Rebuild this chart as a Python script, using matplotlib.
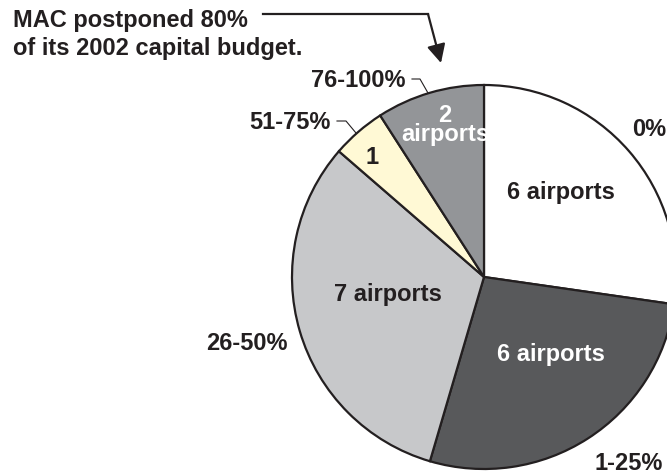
import matplotlib.pyplot as plt

# airports by share of 2002 capital budget postponed
categories = ['0%', '1-25%', '26-50%', '51-75%', '76-100%']
airports = [6, 6, 7, 1, 2]
slice_text = ['6 airports', '6 airports', '7 airports', '1', '2\nairports']
colors = ['#ffffff', '#58595b', '#c7c8ca', '#fff9d5', '#939598']
text_colors = ['#231f20', '#ffffff', '#231f20', '#231f20', '#ffffff']

ink = '#231f20'
fs = 17

fig = plt.figure(figsize=(6.67, 4.74), dpi=100)
ax = fig.add_axes([0, 0, 1, 1])

# y is flipped below (pixel-style coords), so counterclock=True draws clockwise
ax.pie(airports, colors=colors, center=(484, 277), radius=192,
       startangle=-90, counterclock=True,
       wedgeprops=dict(edgecolor=ink, linewidth=1.6))

ax.set_xlim(0, 667)
ax.set_ylim(474, 0)
ax.axis('off')

# text inside the slices
inside_pos = [(561, 193), (551, 355), (388, 295), (372, 158), (445, 125)]
for (x, y), t, c in zip(inside_pos, slice_text, text_colors):
    ax.text(x, y, t, ha='center', va='center', fontsize=fs, color=c,
            fontweight='bold', family='Liberation Sans', linespacing=0.8)

# category labels around the pie
outside_pos = [(666, 130, 'right'), (594, 463, 'left'), (288, 343, 'right'),
               (331, 122, 'right'), (406, 80, 'right')]
for (x, y, ha), cat in zip(outside_pos, categories):
    ax.text(x, y, cat, ha=ha, va='center', fontsize=fs, color=ink,
            fontweight='bold', family='Liberation Sans')

# leader lines for the two small slices
ax.plot([412, 420, 428], [79, 79, 93], color=ink, lw=0.8)
ax.plot([337, 346, 356], [121, 121, 133], color=ink, lw=0.8)

# callout note with arrow
ax.text(13, 20, 'MAC postponed 80%', ha='left', va='center', fontsize=fs,
        color=ink, fontweight='bold', family='Liberation Sans')
ax.text(13, 48, 'of its 2002 capital budget.', ha='left', va='center',
        fontsize=fs, color=ink, fontweight='bold', family='Liberation Sans')
ax.plot([263, 428], [14, 14], color=ink, lw=1.6)
ax.annotate('', xy=(441, 63), xytext=(428, 14),
            arrowprops=dict(arrowstyle='-|>', lw=1.6, color=ink,
                            mutation_scale=28, shrinkA=0, shrinkB=0))

fig.savefig('out.png', dpi=100)
